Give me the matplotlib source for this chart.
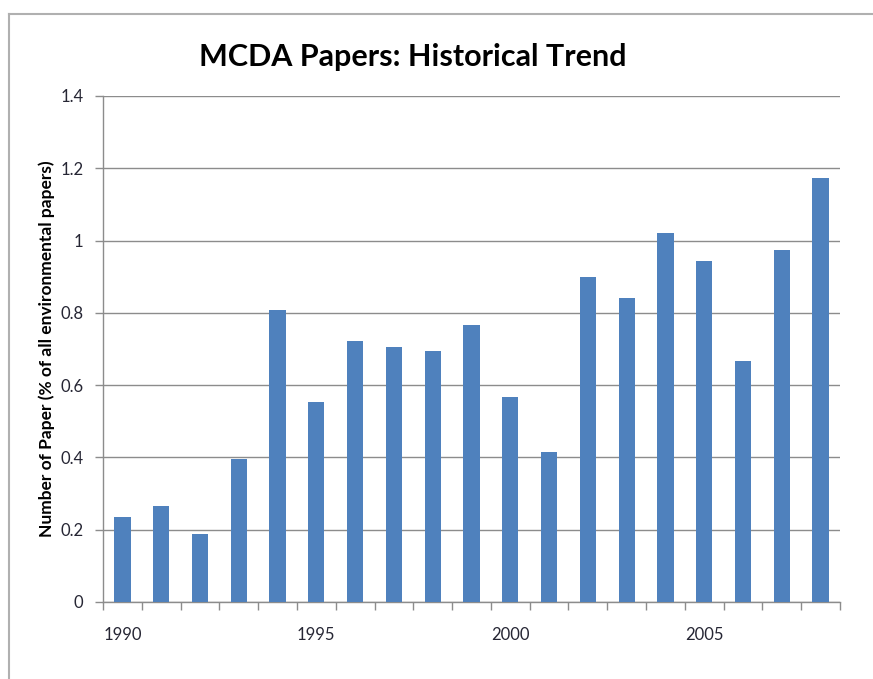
import matplotlib
matplotlib.use("Agg")
import matplotlib.pyplot as plt
from matplotlib.lines import Line2D

years = list(range(1990, 2009))
values = [0.235, 0.266, 0.188, 0.396, 0.808, 0.553, 0.721, 0.706, 0.694, 0.766,
          0.567, 0.415, 0.898, 0.840, 1.020, 0.943, 0.666, 0.973, 1.173]
xtick_labels = ["1990", "", "", "", "", "1995", "", "", "", "", "2000", "", "", "", "",
                "2005", "", "", ""]
yticks = [0, 0.2, 0.4, 0.6, 0.8, 1.0, 1.2, 1.4]
ytick_labels = ["0", "0.2", "0.4", "0.6", "0.8", "1", "1.2", "1.4"]

W, H = 873, 679
fig = plt.figure(figsize=(W / 100, H / 100), dpi=100)
fig.patch.set_facecolor("white")

ax = fig.add_axes([103 / W, 1 - 602 / H, (840 - 103) / W, (602 - 96) / H])
pos = list(range(len(years)))
ax.bar(pos, values, width=0.42, color="#4F81BD", zorder=3)

ax.set_xlim(-0.5, len(years) - 0.5)
ax.set_ylim(0, 1.4)
ax.set_yticks(yticks)
ax.set_yticklabels(ytick_labels)
ax.yaxis.grid(True, color="#8c8c8c", linewidth=1.0, zorder=0)

ax.set_xticks(pos)
ax.set_xticklabels(xtick_labels)
ax.set_xticks([p - 0.5 for p in pos] + [len(years) - 0.5], minor=True)
ax.tick_params(axis="x", which="major", length=0, pad=18, labelsize=12, labelcolor="#262634")
ax.tick_params(axis="x", which="minor", length=6, width=1, color="#8c8c8c", direction="out")
ax.tick_params(axis="y", length=6, width=1, color="#8c8c8c", direction="out",
               labelsize=12, labelcolor="#262634", pad=8)
for lab in ax.get_xticklabels() + ax.get_yticklabels():
    lab.set_family(["Lato", "DejaVu Sans"])

for s in ["top", "right"]:
    ax.spines[s].set_visible(False)
for s in ["left", "bottom"]:
    ax.spines[s].set_color("#8c8c8c")
    ax.spines[s].set_linewidth(1.0)

ax.set_ylabel("Number of Paper (% of all environmental papers)", fontsize=12.5,
              fontweight="bold", family=["Lato", "DejaVu Sans"], labelpad=4)

fig.text(413 / W, 1 - 57 / H, "MCDA Papers: Historical Trend", ha="center", va="center",
         fontsize=22, fontweight="bold", family=["Lato", "DejaVu Sans"], color="black")

# outer chart border (extends past right and bottom edges)
fig.add_artist(Line2D([9 / W, 9 / W], [1 - 14 / H, 0], transform=fig.transFigure,
                      color="#b0b0b0", linewidth=1.5))
fig.add_artist(Line2D([9 / W, 1], [1 - 14 / H, 1 - 14 / H], transform=fig.transFigure,
                      color="#b0b0b0", linewidth=1.5))

fig.savefig("out.png", dpi=100)
